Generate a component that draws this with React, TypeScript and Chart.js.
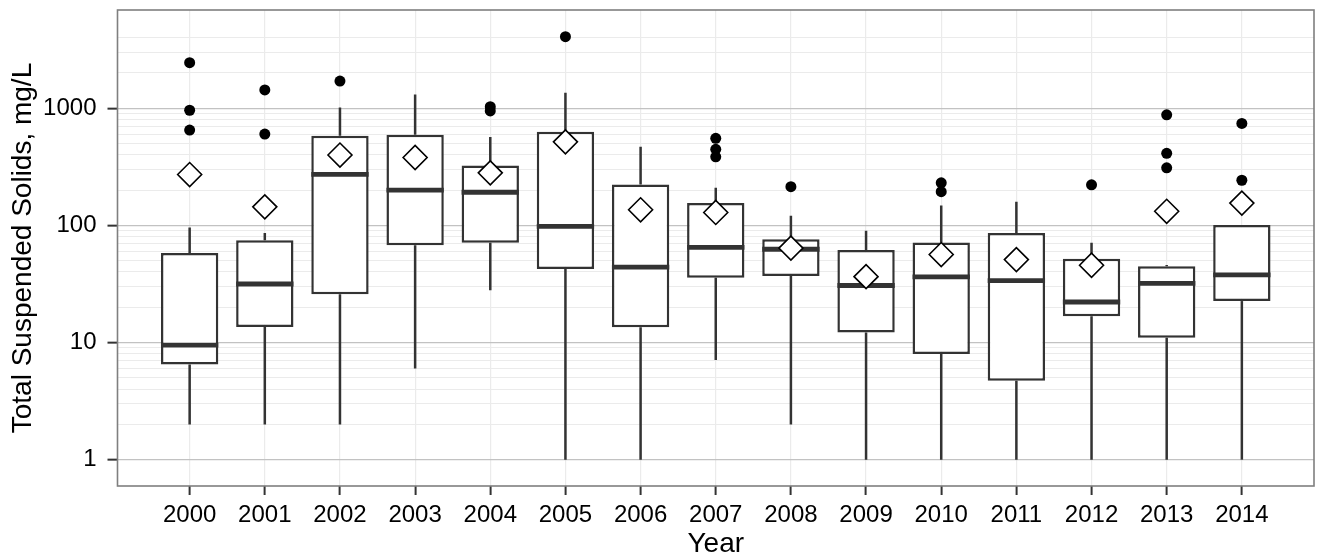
import React, { useEffect, useRef } from 'react';
import { Chart, registerables } from 'chart.js';

Chart.register(...registerables);

// ---- data ----
const years = [2000, 2001, 2002, 2003, 2004, 2005, 2006, 2007, 2008, 2009, 2010, 2011, 2012, 2013, 2014];
const yearLabels = ['2000', '2001', '2002', '2003', '2004', '2005', '2006', '2007', '2008', '2009', '2010', '2011', '2012', '2013', '2014'];
const whiskerLow = [2, 2, 2, 6, 28, 1, 1, 7.1, 2, 1, 1, 1, 1, 1, 1];
const q1 = [6.5, 13.6, 25.8, 67.6, 71, 42.4, 13.5, 35.8, 37, 12.2, 8.0, 4.72, 16.8, 11, 22.6];
const median = [9.5, 31.6, 273, 200, 192, 98, 44, 65, 62.6, 30.7, 36.3, 33.8, 22.2, 32, 37.8];
const q3 = [58, 74.6, 582, 594, 324, 632, 223, 155, 76, 61.8, 71.5, 86.3, 52, 44.8, 100.7];
const whiskerHigh = [96, 86, 1018, 1309, 570, 1355, 469, 210, 121, 90, 148, 159, 71, 46, 100.7];
const means = [272, 144, 399, 380, 281, 517, 136, 129, 64, 36.5, 56.4, 51.1, 45.7, 132, 155];
const outlierYears = [2000, 2000, 2000, 2001, 2001, 2002, 2004, 2004, 2005, 2007, 2007, 2007, 2008, 2010, 2010, 2012, 2013, 2013, 2013, 2014, 2014];
const outlierValues = [2450, 962, 651, 1433, 603, 1708, 1032, 949, 4086, 554, 446, 385, 214, 231, 194, 222, 879, 413, 310, 743, 243];
const yMajorTicks = [1, 10, 100, 1000];
const yMinorTicks = [2, 3, 4, 5, 6, 7, 8, 9, 20, 30, 40, 50, 60, 70, 80, 90, 200, 300, 400, 500, 600, 700, 800, 900, 2000, 3000, 4000];
const yTitle = 'Total Suspended Solids, mg/L';
const xTitle = 'Year';

const FONT = "'Liberation Sans', Arial, Helvetica, sans-serif";
const BOX_INDEX = 2;

const boxPlugin = {
  id: 'boxExtras',
  afterDatasetDraw(chart: any, args: any) {
    if (args.index !== BOX_INDEX) return;
    const { ctx } = chart;
    const x = chart.scales.x;
    const y = chart.scales.y;
    const meta = chart.getDatasetMeta(BOX_INDEX);
    ctx.save();
    ctx.strokeStyle = '#333333';
    ctx.lineCap = 'butt';
    years.forEach((yr, i) => {
      const px = x.getPixelForValue(yr);
      const half = meta.data[i].width / 2;
      ctx.lineWidth = 2.5;
      ctx.beginPath();
      ctx.moveTo(px, y.getPixelForValue(q3[i]));
      ctx.lineTo(px, y.getPixelForValue(whiskerHigh[i]));
      ctx.moveTo(px, y.getPixelForValue(q1[i]));
      ctx.lineTo(px, y.getPixelForValue(whiskerLow[i]));
      ctx.stroke();
      const my = y.getPixelForValue(median[i]);
      ctx.lineWidth = 4.8;
      ctx.beginPath();
      ctx.moveTo(px - half, my);
      ctx.lineTo(px + half, my);
      ctx.stroke();
    });
    ctx.restore();
  },
  afterDraw(chart: any) {
    const { ctx, chartArea } = chart;
    ctx.save();
    ctx.strokeStyle = '#7f7f7f';
    ctx.lineWidth = 1.6;
    ctx.strokeRect(chartArea.left, chartArea.top, chartArea.right - chartArea.left, chartArea.bottom - chartArea.top);
    ctx.restore();
  },
};

export default function App() {
  const canvasRef = useRef<HTMLCanvasElement | null>(null);

  useEffect(() => {
    if (!canvasRef.current) return;
    const meanData = years.map((yr, i) => ({ x: yr, y: means[i] }));
    const outlierData = outlierYears.map((yr, i) => ({ x: yr, y: outlierValues[i] }));
    const boxData = years.map((yr, i) => ({ x: yr, y: [q1[i], q3[i]] }));

    const chart = new Chart(canvasRef.current, {
      type: 'bar',
      data: {
        datasets: [
          {
            type: 'line',
            label: 'Mean',
            data: meanData as any,
            showLine: false,
            pointStyle: 'rectRot',
            pointRadius: 12,
            pointBackgroundColor: '#ffffff',
            pointBorderColor: '#000000',
            pointBorderWidth: 1.6,
          },
          {
            type: 'line',
            label: 'Outliers',
            data: outlierData as any,
            showLine: false,
            pointStyle: 'circle',
            pointRadius: 5.5,
            pointBackgroundColor: '#000000',
            pointBorderColor: '#000000',
            pointBorderWidth: 0,
          },
          {
            type: 'bar',
            label: 'Box',
            data: boxData as any,
            backgroundColor: '#ffffff',
            borderColor: '#333333',
            borderWidth: 2.5,
            borderSkipped: false,
            barPercentage: 0.763,
            categoryPercentage: 1,
          },
        ],
      },
      options: {
        responsive: false,
        animation: false,
        devicePixelRatio: 1,
        layout: { autoPadding: false, padding: { left: 0, right: 3, top: 10, bottom: 0 } },
        plugins: {
          legend: { display: false },
          tooltip: { enabled: false },
        },
        scales: {
          x: {
            type: 'linear',
            min: 1999.04,
            max: 2014.96,
            offset: false,
            afterBuildTicks: (axis: any) => {
              axis.ticks = years.map((v) => ({ value: v }));
            },
            afterFit: (axis: any) => {
              axis.height = 71;
              axis.paddingLeft = 0;
              axis.paddingRight = 0;
            },
            border: { display: false },
            grid: {
              offset: false,
              color: '#ebebeb',
              lineWidth: 1.2,
              drawTicks: true,
              tickLength: 9,
              tickColor: '#333333',
              tickWidth: 2,
            },
            ticks: {
              autoSkip: false,
              maxRotation: 0,
              padding: 5.6,
              color: '#000000',
              font: { family: FONT, size: 24 },
              callback: (value: any) => {
                const idx = years.indexOf(Number(value));
                return idx >= 0 ? yearLabels[idx] : '';
              },
            },
            title: {
              display: true,
              text: xTitle,
              color: '#000000',
              font: { family: FONT, size: 28, lineHeight: 1 },
              padding: { top: 0, bottom: -1.6 },
            },
          },
          y: {
            type: 'logarithmic',
            min: 0.596,
            max: 6904,
            bounds: 'data',
            afterBuildTicks: (axis: any) => {
              const all = [...yMajorTicks, ...yMinorTicks].sort((a, b) => a - b);
              axis.ticks = all.map((v) => ({ value: v, major: yMajorTicks.includes(v) }));
            },
            afterFit: (axis: any) => {
              axis.width = 117.5;
              axis.paddingTop = 0;
              axis.paddingBottom = 0;
            },
            border: { display: false },
            grid: {
              color: (ctx: any) => (ctx.tick && yMajorTicks.includes(ctx.tick.value) ? '#c2c2c2' : '#ebebeb'),
              lineWidth: (ctx: any) => (ctx.tick && yMajorTicks.includes(ctx.tick.value) ? 1.3 : 1.1),
              drawTicks: true,
              tickLength: 10,
              tickColor: (ctx: any) => (ctx.tick && yMajorTicks.includes(ctx.tick.value) ? '#333333' : 'rgba(0,0,0,0)'),
              tickWidth: 2,
            },
            ticks: {
              autoSkip: false,
              padding: 11,
              color: '#000000',
              font: { family: FONT, size: 24 },
              callback: (value: any) => (yMajorTicks.includes(Number(value)) ? String(value) : ''),
            },
            title: {
              display: true,
              text: yTitle,
              color: '#000000',
              font: { family: FONT, size: 28, lineHeight: 1 },
              padding: { top: 9.6, bottom: 0 },
            },
          },
        },
      },
      plugins: [boxPlugin],
    } as any);

    return () => {
      chart.destroy();
    };
  }, []);

  return (
    <div style={{ position: 'absolute', left: 0, top: 0, width: 1317, height: 557, background: '#ffffff' }}>
      <canvas ref={canvasRef} width={1317} height={557} style={{ display: 'block', width: 1317, height: 557 }} />
    </div>
  );
}
